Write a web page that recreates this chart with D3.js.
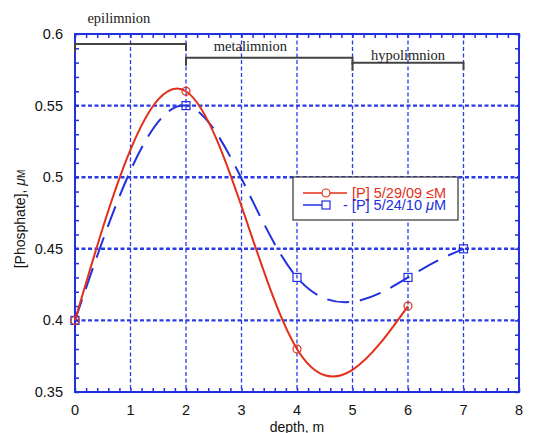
<!DOCTYPE html>
<html>
<head>
<meta charset="utf-8">
<script src="https://cdn.jsdelivr.net/npm/d3@7"></script>
<style>
  html, body { margin: 0; padding: 0; background: #fff; }
  svg { display: block; }
</style>
</head>
<body>
<svg id="chart" width="533" height="433"></svg>
<script>
// Phosphate profiles against depth, two sampling dates
const depth2009 = [0, 2, 4, 6];
const phos2009 = [0.40, 0.56, 0.38, 0.41];
const depth2010 = [0, 2, 4, 6, 7];
const phos2010 = [0.40, 0.55, 0.43, 0.43, 0.45];

const seriesNames = ["[P] 5/29/09 \u2264M", "- [P] 5/24/10 \u03bcM"];

const xTicks = [0, 1, 2, 3, 4, 5, 6, 7, 8];
const yTicks = [0.35, 0.4, 0.45, 0.5, 0.55, 0.6];
const yTickLabels = ["0.35", "0.4", "0.45", "0.5", "0.55", "0.6"];

// Lake strata: name, depth range, bracket level (in phosphate units)
const layerNames = ["epilimnion", "metalimnion", "hypolimnion"];
const layerStart = [0, 2, 5];
const layerEnd = [2, 5, 7];
const layerLevel = [0.593, 0.5835, 0.58];

const W = 533, H = 433;
const m = { left: 75, right: 14, top: 34, bottom: 41 };
const svg = d3.select("#chart");

const x = d3.scaleLinear().domain([0, 8]).range([m.left, W - m.right]);
const y = d3.scaleLinear().domain([0.35, 0.6]).range([H - m.bottom, m.top]);

const blue = "#2130e0";
const red = "#e2301a";
const gridBlue = "#2a3ae6";
const sans = "'Liberation Sans', Arial, Helvetica, sans-serif";
const serif = "'Liberation Serif', 'Times New Roman', serif";

// grid
const grid = svg.append("g");
grid.selectAll("line.v").data(xTicks.slice(1, -1)).join("line")
  .attr("x1", d => x(d)).attr("x2", d => x(d))
  .attr("y1", y(0.6)).attr("y2", y(0.35))
  .attr("stroke", gridBlue).attr("stroke-width", 1.3)
  .attr("stroke-dasharray", "4,2.5");
grid.selectAll("line.h").data(yTicks.slice(1, -1)).join("line")
  .attr("x1", x(0)).attr("x2", x(8))
  .attr("y1", d => y(d)).attr("y2", d => y(d))
  .attr("stroke", gridBlue).attr("stroke-width", 2.4)
  .attr("stroke-dasharray", "4,2.5");

// axes: ticks on all four sides, pointing inward
const xMinor = d3.range(0, 8.001, 0.2);
const yMinor = d3.range(0.35, 0.6001, 0.01);
const axisG = svg.append("g").attr("stroke", blue).attr("stroke-width", 1.5);
function addAxes() {
  svg.append("g").attr("transform", `translate(0,${y(0.35)})`)
    .call(d3.axisBottom(x).tickValues(xMinor).tickSize(-4).tickFormat(""));
  svg.append("g").attr("transform", `translate(0,${y(0.6)})`)
    .call(d3.axisTop(x).tickValues(xMinor).tickSize(-4).tickFormat(""));
  svg.append("g").attr("transform", `translate(${x(0)},0)`)
    .call(d3.axisLeft(y).tickValues(yMinor).tickSize(-4).tickFormat(""));
  svg.append("g").attr("transform", `translate(${x(8)},0)`)
    .call(d3.axisRight(y).tickValues(yMinor).tickSize(-4).tickFormat(""));
  svg.selectAll(".domain").remove();
  svg.selectAll(".tick line").attr("stroke", blue).attr("stroke-width", 1.5);
  svg.append("rect")
    .attr("x", x(0)).attr("y", y(0.6))
    .attr("width", x(8) - x(0)).attr("height", y(0.35) - y(0.6))
    .attr("fill", "none").attr("stroke", blue).attr("stroke-width", 2);
}
addAxes();

// tick labels
svg.append("g").selectAll("text").data(xTicks).join("text")
  .attr("x", d => x(d)).attr("y", y(0.35) + 23)
  .attr("text-anchor", "middle")
  .attr("font-family", sans).attr("font-size", 14.5).attr("fill", "#111")
  .text(d => d);
svg.append("g").selectAll("text").data(yTicks).join("text")
  .attr("x", x(0) - 12).attr("y", d => y(d) + 5)
  .attr("text-anchor", "end")
  .attr("font-family", sans).attr("font-size", 14.5).attr("fill", "#111")
  .text((d, i) => yTickLabels[i]);

// axis titles
svg.append("text")
  .attr("x", (x(0) + x(8)) / 2).attr("y", H - 1)
  .attr("text-anchor", "middle")
  .attr("font-family", sans).attr("font-size", 14).attr("fill", "#111")
  .text("depth, m");
const yTitle = svg.append("text")
  .attr("transform", `translate(25,${(y(0.35) + y(0.6)) / 2 + 6}) rotate(-90)`)
  .attr("text-anchor", "middle")
  .attr("font-family", sans).attr("font-size", 14).attr("fill", "#111");
yTitle.append("tspan").text("[Phosphate], ");
yTitle.append("tspan").attr("font-style", "italic").text("\u03bc");
yTitle.append("tspan").attr("font-size", 10).text("M");

// strata brackets
const strata = svg.append("g");
layerNames.forEach((name, i) => {
  const yy = y(layerLevel[i]);
  strata.append("path")
    .attr("d", `M${x(layerStart[i])},${yy + 8}V${yy}H${x(layerEnd[i])}V${yy + 7}`)
    .attr("fill", "none").attr("stroke", "#444").attr("stroke-width", 2);
});
const labelDx = [0.79, 3.16, 6.0];
const labelDy = [-21, -7, -2.5];
layerNames.forEach((name, i) => {
  strata.append("text")
    .attr("x", x(labelDx[i])).attr("y", y(layerLevel[i]) + labelDy[i])
    .attr("text-anchor", "middle")
    .attr("font-family", serif).attr("font-size", 14.5).attr("fill", "#222")
    .text(name);
});

// smoothed profiles
const line = d3.line().x(d => x(d[0])).y(d => y(d[1])).curve(d3.curveNatural);
const pts2009 = depth2009.map((d, i) => [d, phos2009[i]]);
const pts2010 = depth2010.map((d, i) => [d, phos2010[i]]);

svg.append("path").datum(pts2010)
  .attr("d", line).attr("fill", "none")
  .attr("stroke", blue).attr("stroke-width", 2)
  .attr("stroke-dasharray", "22,11");
svg.append("path").datum(pts2009)
  .attr("d", line).attr("fill", "none")
  .attr("stroke", red).attr("stroke-width", 2);

// markers
svg.append("g").selectAll("rect").data(pts2010).join("rect")
  .attr("x", d => x(d[0]) - 4).attr("y", d => y(d[1]) - 4)
  .attr("width", 8).attr("height", 8)
  .attr("fill", "none").attr("stroke", blue).attr("stroke-width", 1.2);
svg.append("g").selectAll("circle").data(pts2009).join("circle")
  .attr("cx", d => x(d[0])).attr("cy", d => y(d[1])).attr("r", 4)
  .attr("fill", "none").attr("stroke", red).attr("stroke-width", 1.2);

// legend
const lg = svg.append("g").attr("transform", "translate(293,177)");
lg.append("rect").attr("width", 165).attr("height", 43)
  .attr("fill", "#fff").attr("stroke", "#333").attr("stroke-width", 1.2);
lg.append("line").attr("x1", 10).attr("x2", 54).attr("y1", 16).attr("y2", 16)
  .attr("stroke", red).attr("stroke-width", 1.5);
lg.append("circle").attr("cx", 33).attr("cy", 16).attr("r", 4)
  .attr("fill", "#fff").attr("stroke", red).attr("stroke-width", 1.2);
lg.append("text").attr("x", 59).attr("y", 21)
  .attr("font-family", sans).attr("font-size", 14.5).attr("fill", red)
  .text(seriesNames[0]);
lg.append("line").attr("x1", 10).attr("x2", 37).attr("y1", 28).attr("y2", 28)
  .attr("stroke", blue).attr("stroke-width", 1.5);
lg.append("rect").attr("x", 29).attr("y", 24).attr("width", 8).attr("height", 8)
  .attr("fill", "#fff").attr("stroke", blue).attr("stroke-width", 1.2);
const t2 = lg.append("text").attr("x", 50).attr("y", 33)
  .attr("font-family", sans).attr("font-size", 14.5).attr("fill", blue);
t2.append("tspan").text("- [P] 5/24/10 ");
t2.append("tspan").attr("font-style", "italic").text("\u03bc");
t2.append("tspan").text("M");
</script>
</body>
</html>
